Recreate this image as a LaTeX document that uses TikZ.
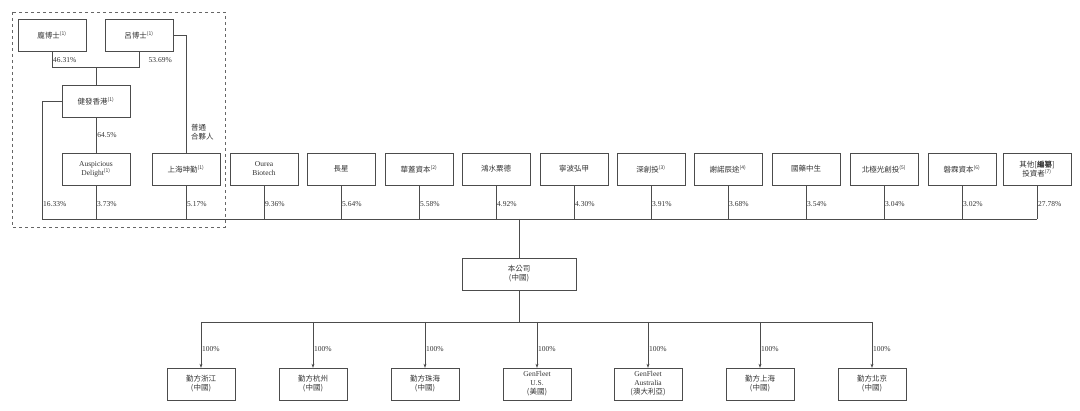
\documentclass[tikz,border=0pt]{standalone}
\usepackage{fontspec}
\setmainfont{Liberation Serif}
\newfontfamily\cjk{Noto Sans CJK TC}
\usetikzlibrary{positioning, arrows.meta}
\newcommand{\nt}[1]{\textsuperscript{\tiny(#1)}}
\begin{document}
\begin{tikzpicture}[
	x=1pt, y=-1pt,
	entity/.style={rectangle, draw=black!70, minimum width=68pt, minimum height=32pt, inner sep=1pt, align=center, font=\fontsize{7.5}{9}\selectfont\cjk, text=black!80},
	pct/.style={right, inner sep=1pt, font=\fontsize{7.5}{8}\selectfont, text=black!80},
	link/.style={draw=black!70, line width=0.5pt},
	>={Stealth[length=4pt, width=3pt]}
]
\useasboundingbox (0,0) rectangle (1080,411);

% holding group
\draw[black!60, dashed, line width=0.5pt] (12,12) rectangle (225,227);
\node[entity] (pang) at (52,35) {龐博士\nt{1}};
\node[entity] (lu) at (139,35) {呂博士\nt{1}};
\node[entity] (jf) at (96,101) {健發香港\nt{1}};
\node[entity] (ausp) at (96,169) {{\rmfamily Auspicious}\\{\rmfamily Delight}\nt{1}};
\node[entity] (shkq) at (186,169) {上海坤勤\nt{1}};
\node[entity] (ourea) at (264,169) {{\rmfamily Ourea}\\{\rmfamily Biotech}};
\node[entity] (cx) at (341,169) {長星};
\node[entity] (hg) at (419,169) {華蓋資本\nt{2}};
\node[entity] (hs) at (496,169) {鴻水粟德};
\node[entity] (nb) at (574,169) {寧波弘甲};
\node[entity] (sct) at (651,169) {深創投\nt{3}};
\node[entity] (xn) at (728,169) {謝諾辰途\nt{4}};
\node[entity] (gy) at (806,169) {國藥中生};
\node[entity] (bjg) at (884,169) {北極光創投\nt{5}};
\node[entity] (pl) at (962,169) {磐霖資本\nt{6}};
\node[entity] (qt) at (1037,169) {其他[{\bfseries 編纂}]\\投資者\nt{7}};
\coordinate (bus) at (519,219);

\draw[link] (pang.south) -- ++(0,16) coordinate (pl1) -- (pl1 -| lu.south) -- (lu.south);
\draw[link] (jf.north) -- (jf.north |- pl1);
\node[pct, anchor=west] (p1) at (52,60) {46.31\%};
\node[pct, anchor=east] (p2) at (173,60) {53.69\%};
\draw[link] (lu.east) -| (shkq.north);
\node[pct, align=left, font=\fontsize{7.5}{9}\selectfont\cjk] (gp) at (190,132) {普通\\合夥人};
\draw[link] (jf.south) -- (ausp.north) node[pct, midway] (p3) {64.5\%};
\draw[link] (jf.west) -| (42,219) coordinate (busl);
\node[pct] (p4) at (42,204) {16.33\%};
\draw[link] (busl) -- (bus -| qt.south);

\foreach \n/\v in {ausp/3.73, shkq/5.17, ourea/9.36, cx/5.64, hg/5.58, hs/4.92, nb/4.30, sct/3.91, xn/3.68, gy/3.54, bjg/3.04, pl/3.02, qt/27.78}{
	\draw[link] (\n.south) -- (\n.south |- bus);
	\node[pct] at ([yshift=-19pt]\n.south) {\v\%};
}

% company and subsidiaries
\node[entity, minimum width=114pt] (co) at (519,274) {本公司\\{\itshape (中國)}};
\draw[link] (bus) -- (co.north);
\coordinate (sbus) at (519,322);
\draw[link] (co.south) -- (sbus);

\node[entity] (zj) at (201,384) {勤方浙江\\{\itshape (中國)}};
\node[entity] (hz) at (313,384) {勤方杭州\\{\itshape (中國)}};
\node[entity] (zh) at (425,384) {勤方珠海\\{\itshape (中國)}};
\node[entity] (us) at (537,384) {{\rmfamily GenFleet}\\{\rmfamily U.S.}\\{\itshape (美國)}};
\node[entity] (au) at (648,384) {{\rmfamily GenFleet}\\{\rmfamily Australia}\\{\itshape (澳大利亞)}};
\node[entity] (sh) at (760,384) {勤方上海\\{\itshape (中國)}};
\node[entity] (bj) at (872,384) {勤方北京\\{\itshape (中國)}};

\draw[link] (sbus -| zj.north) -- (sbus -| bj.north);
\foreach \n in {zj, hz, zh, us, au, sh, bj}{
	\draw[link, ->] (sbus -| \n.north) -- (\n.north);
	\node[pct] at ([yshift=19pt]\n.north) {100\%};
}
\end{tikzpicture}
\end{document}
